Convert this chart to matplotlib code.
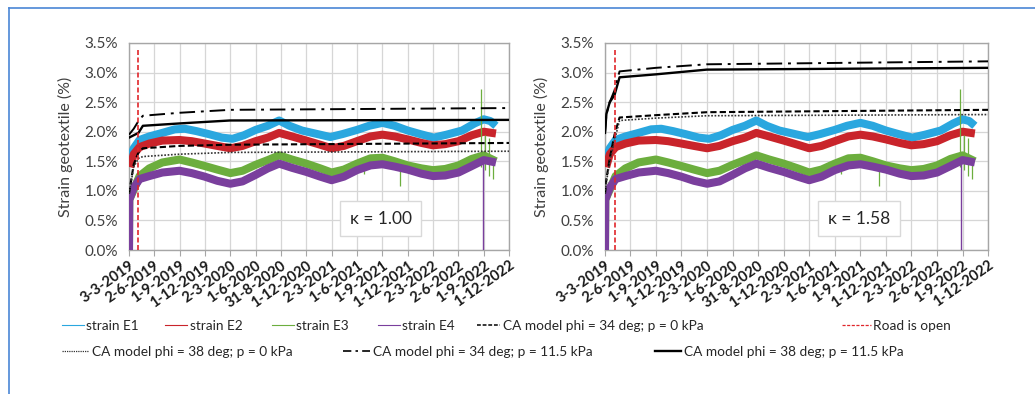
import matplotlib
matplotlib.use("Agg")
import matplotlib.pyplot as plt
from matplotlib.lines import Line2D
import numpy as np
import pandas as pd

plt.rcParams['font.family'] = ['Lato', 'DejaVu Sans']

# ---------------- data ----------------
tick_dates = ['2019-03-03', '2019-06-02', '2019-09-01', '2019-12-01', '2020-03-02', '2020-06-01',
              '2020-08-31', '2020-12-01', '2021-03-02', '2021-06-01', '2021-09-01', '2021-12-01',
              '2022-03-02', '2022-06-02', '2022-09-01', '2022-12-01']
tick_labels = ['3-3-2019', '2-6-2019', '1-9-2019', '1-12-2019', '2-3-2020', '1-6-2020',
               '31-8-2020', '1-12-2020', '2-3-2021', '1-6-2021', '1-9-2021', '1-12-2021',
               '2-3-2022', '2-6-2022', '1-9-2022', '1-12-2022']

e1_dates = ['2019-03-07', '2019-03-20', '2019-04-10', '2019-05-15', '2019-07-01', '2019-08-15',
            '2019-09-20', '2019-11-01', '2019-12-15', '2020-02-01', '2020-03-10', '2020-04-20',
            '2020-06-01', '2020-07-15', '2020-08-25', '2020-10-01', '2020-11-15', '2021-01-01',
            '2021-02-25', '2021-04-10', '2021-06-01', '2021-07-15', '2021-09-01', '2021-10-15',
            '2021-12-01', '2022-01-15', '2022-03-05', '2022-04-20', '2022-06-15', '2022-07-30',
            '2022-09-01', '2022-09-25', '2022-10-15']
e1_vals = [1.55, 1.72, 1.86, 1.92, 1.98, 2.04, 2.05, 2.01, 1.96, 1.90, 1.88, 1.94,
           2.03, 2.10, 2.19, 2.10, 2.02, 1.97, 1.91, 1.96, 2.03, 2.10, 2.15, 2.10,
           2.02, 1.96, 1.90, 1.95, 2.02, 2.14, 2.21, 2.18, 2.10]

e2_dates = ['2019-03-07', '2019-03-20', '2019-04-10', '2019-05-15', '2019-07-01', '2019-09-01',
            '2019-10-15', '2019-12-01', '2020-01-15', '2020-03-02', '2020-04-15', '2020-06-01',
            '2020-07-15', '2020-08-25', '2020-10-10', '2020-12-01', '2021-01-20', '2021-03-02',
            '2021-04-15', '2021-06-01', '2021-07-20', '2021-09-01', '2021-10-15', '2021-12-01',
            '2022-01-20', '2022-03-02', '2022-04-15', '2022-06-02', '2022-07-20', '2022-09-01',
            '2022-10-15']
e2_vals = [1.40, 1.62, 1.74, 1.80, 1.85, 1.86, 1.84, 1.80, 1.76, 1.72, 1.76, 1.84,
           1.90, 1.98, 1.92, 1.85, 1.78, 1.72, 1.76, 1.84, 1.92, 1.95, 1.92, 1.87,
           1.81, 1.77, 1.79, 1.84, 1.94, 2.00, 1.97]

e3_dates = ['2019-03-03', '2019-03-04', '2019-03-20', '2019-04-10', '2019-05-15', '2019-07-01',
            '2019-09-01', '2019-10-15', '2019-12-01', '2020-01-15', '2020-03-02', '2020-04-15',
            '2020-06-01', '2020-07-15', '2020-08-25', '2020-10-10', '2020-12-01', '2021-01-20',
            '2021-03-02', '2021-04-15', '2021-06-01', '2021-07-20', '2021-09-01', '2021-10-15',
            '2021-12-01', '2022-01-20', '2022-03-02', '2022-04-15', '2022-06-02', '2022-07-20',
            '2022-09-01', '2022-10-15']
e3_vals = [0.0, 0.85, 1.02, 1.25, 1.38, 1.48, 1.53, 1.48, 1.42, 1.36, 1.30, 1.34,
           1.44, 1.52, 1.60, 1.53, 1.46, 1.38, 1.31, 1.36, 1.46, 1.55, 1.56, 1.50,
           1.43, 1.38, 1.35, 1.37, 1.43, 1.54, 1.60, 1.50]

e4_dates = ['2019-03-03', '2019-03-04', '2019-03-20', '2019-04-10', '2019-05-15', '2019-07-01',
            '2019-09-01', '2019-10-15', '2019-12-01', '2020-01-15', '2020-03-02', '2020-04-15',
            '2020-06-01', '2020-07-15', '2020-08-25', '2020-10-10', '2020-12-01', '2021-01-20',
            '2021-03-02', '2021-04-15', '2021-06-01', '2021-07-20', '2021-09-01', '2021-10-15',
            '2021-12-01', '2022-01-20', '2022-03-02', '2022-04-15', '2022-06-02', '2022-07-20',
            '2022-09-01', '2022-10-15']
e4_vals = [0.0, 0.85, 1.05, 1.20, 1.25, 1.31, 1.34, 1.30, 1.24, 1.17, 1.12, 1.16,
           1.27, 1.38, 1.46, 1.39, 1.32, 1.24, 1.18, 1.24, 1.35, 1.43, 1.45, 1.41,
           1.36, 1.29, 1.25, 1.26, 1.31, 1.42, 1.52, 1.48]

# occasional sensor spikes (date, low value, high value)
e3_spike_dates = ['2021-06-25', '2021-11-05', '2022-08-22', '2022-09-05', '2022-09-20', '2022-10-05']
e3_spike_lo = [1.28, 1.08, 1.40, 1.35, 1.25, 1.20]
e3_spike_hi = [1.50, 1.45, 2.72, 1.95, 1.90, 1.55]
e4_spike_dates = ['2022-08-28']
e4_spike_lo = [0.0]
e4_spike_hi = [1.50]

road_open_date = '2019-04-06'
road_open_top = 3.4

# CA model curves, kappa = 1.00 (left) and kappa = 1.58 (right)
ca_dates = ['2019-03-03', '2019-03-20', '2019-04-06', '2019-04-22', '2019-09-01', '2020-03-01', '2022-12-01']
left_34_0 = [0.95, 1.45, 1.65, 1.72, 1.76, 1.78, 1.81]
left_38_0 = [0.95, 1.40, 1.55, 1.58, 1.62, 1.65, 1.67]
left_34_115 = [1.95, 2.05, 2.18, 2.27, 2.32, 2.37, 2.40]
left_38_115 = [1.90, 1.94, 1.98, 2.10, 2.14, 2.19, 2.20]

ca_dates_r = ['2019-03-03', '2019-03-08', '2019-03-20', '2019-04-06', '2019-04-24', '2019-09-01', '2020-03-01', '2022-12-01']
right_34_0 = [0.95, 1.20, 1.55, 1.95, 2.24, 2.28, 2.33, 2.37]
right_38_0 = [0.95, 1.15, 1.50, 1.85, 2.19, 2.23, 2.27, 2.29]
right_34_115 = [1.98, 2.30, 2.50, 2.70, 3.02, 3.08, 3.14, 3.19]
right_38_115 = [1.98, 2.30, 2.50, 2.62, 2.92, 2.97, 3.05, 3.08]

kappas = ['κ = 1.00', 'κ = 1.58']

# ---------------- style ----------------
c_e1 = '#2aa7df'
c_e2 = '#c9242b'
c_e3 = '#6cae3e'
c_e4 = '#7a3f9d'
c_road = '#e0262b'
band_lw = 5.8

W, H = 1035, 394
fig = plt.figure(figsize=(W / 100, H / 100), dpi=100)

def px_axes(x0, x1, ytop, ybot):
    return fig.add_axes([x0 / W, 1 - ybot / H, (x1 - x0) / W, (ybot - ytop) / H])

ax_l = px_axes(129, 509, 43, 250)
ax_r = px_axes(605, 988, 43, 250)

D = lambda lst: pd.to_datetime(lst)

def draw(ax, dates_m, m34_0, m38_0, m34_115, m38_115, kappa):
    ax.plot(D(e1_dates), e1_vals, color=c_e1, lw=band_lw, solid_capstyle='butt', zorder=3)
    ax.plot(D(e2_dates), e2_vals, color=c_e2, lw=band_lw, solid_capstyle='butt', zorder=3)
    ax.plot(D(e3_dates), e3_vals, color=c_e3, lw=band_lw, solid_capstyle='butt', zorder=3)
    ax.vlines(D(e3_spike_dates), e3_spike_lo, e3_spike_hi, color=c_e3, lw=0.9, zorder=3)
    ax.plot(D(e4_dates), e4_vals, color=c_e4, lw=band_lw, solid_capstyle='butt', zorder=4)
    ax.vlines(D(e4_spike_dates), e4_spike_lo, e4_spike_hi, color=c_e4, lw=1.0, zorder=4)
    ax.plot(D(dates_m), m34_0, color='black', lw=1.5, ls=(0, (3, 1.5)), zorder=5)
    ax.plot(D(dates_m), m38_0, color='#333333', lw=1.2, ls=(0, (1, 1)), zorder=5)
    ax.plot(D(dates_m), m34_115, color='black', lw=1.4, ls=(0, (8, 3, 1.5, 3)), zorder=5)
    ax.plot(D(dates_m), m38_115, color='black', lw=1.7, zorder=5)
    ax.vlines(D([road_open_date]), 0, road_open_top, color=c_road, lw=1.2, ls=(0, (3, 1.5)), zorder=6)

    ax.set_ylim(0, 3.5)
    ax.set_xlim(pd.Timestamp(tick_dates[0]), pd.Timestamp(tick_dates[-1]))
    ax.set_yticks(np.arange(0, 3.51, 0.5))
    ax.set_yticklabels([f'{v:.1f}%' for v in np.arange(0, 3.51, 0.5)])
    ax.set_xticks(D(tick_dates))
    ax.set_xticklabels(tick_labels, rotation=35, ha='right', rotation_mode='anchor')
    ax.grid(True, color='#d6d6d6', lw=0.9, zorder=0)
    ax.set_axisbelow(True)
    for s in ax.spines.values():
        s.set_color('#a6a6a6')
        s.set_linewidth(1.0)
    ax.tick_params(axis='y', length=0, labelsize=11, labelcolor='#404040', pad=8)
    ax.tick_params(axis='x', length=4, color='#a6a6a6', labelsize=10.5, labelcolor='#1a1a1a', pad=2)
    for lab in ax.get_xticklabels():
        lab.set_fontweight('bold')
    ax.set_ylabel('Strain geotextile (%)', fontsize=11.5, color='#404040', labelpad=8)
    ax.text(0.663, 0.15, kappa, transform=ax.transAxes, ha='center', va='center', fontsize=12.5,
            color='#262626', zorder=7,
            bbox=dict(boxstyle='square,pad=0.55', fc='white', ec='#d9d9d9', lw=1.0))

draw(ax_l, ca_dates, left_34_0, left_38_0, left_34_115, left_38_115, kappas[0])
draw(ax_r, ca_dates_r, right_34_0, right_38_0, right_34_115, right_38_115, kappas[1])

# ---------------- legend ----------------
entries = [
    (Line2D([], [], color=c_e1, lw=0.8), 'strain E1', 62, 326, 1.6),
    (Line2D([], [], color=c_e2, lw=0.8), 'strain E2', 165, 326, 1.6),
    (Line2D([], [], color=c_e3, lw=0.8), 'strain E3', 272, 326, 1.6),
    (Line2D([], [], color=c_e4, lw=0.8), 'strain E4', 378, 326, 1.6),
    (Line2D([], [], color='black', lw=1.1, ls=(0, (2.5, 1.2))), 'CA model phi = 34 deg; p = 0 kPa', 477, 326, 1.7),
    (Line2D([], [], color=c_road, lw=0.9, ls=(0, (2.5, 1.2))), 'Road is open', 842, 326, 2.1),
    (Line2D([], [], color='#333333', lw=0.9, ls=(0, (1, 0.8))), 'CA model phi = 38 deg; p = 0 kPa', 62, 352, 2.0),
    (Line2D([], [], color='black', lw=1.2, ls=(0, (5, 2.5, 1.5, 2.5))), 'CA model phi = 34 deg; p = 11.5 kPa', 343, 352, 2.0),
    (Line2D([], [], color='black', lw=1.7), 'CA model phi = 38 deg; p = 11.5 kPa', 655, 352, 1.9),
]
for h, lab, xp, yp, hl in entries:
    fig.legend([h], [lab], loc='center left', bbox_to_anchor=(xp / W, 1 - yp / H),
               frameon=False, fontsize=9.8, borderpad=0, borderaxespad=0,
               handlelength=hl, handletextpad=0.2, labelcolor='#262626')

# ---------------- outer frame ----------------
fig.add_artist(Line2D([8.5 / W, 8.5 / W], [0, 1 - 7.5 / H], color='#4a86d6', lw=1.2, transform=fig.transFigure))
fig.add_artist(Line2D([8.5 / W, 1], [1 - 7.5 / H, 1 - 7.5 / H], color='#4a86d6', lw=1.2, transform=fig.transFigure))

fig.savefig('out.png', dpi=100)
